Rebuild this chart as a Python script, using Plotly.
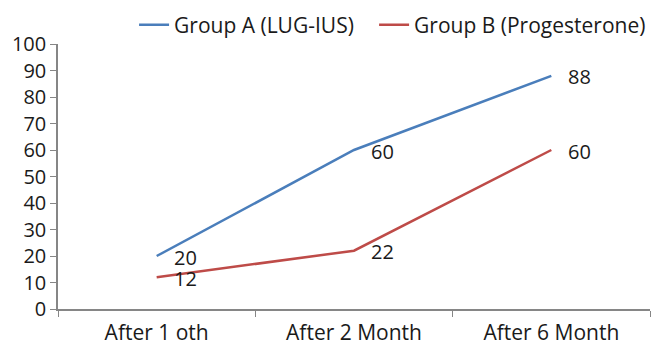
import plotly.graph_objects as go

categories = ["After 1 oth", "After 2 Month", "After 6 Month"]
group_a = [20, 60, 88]
group_b = [12, 22, 60]
series_names = ["Group A (LUG-IUS)", "Group B (Progesterone)"]
y_ticks = [0, 10, 20, 30, 40, 50, 60, 70, 80, 90, 100]

colors = ["#4A7EBB", "#BE4B48"]
font_family = "Open Sans"
text_color = "#1a1a1a"
legend_ids = ["legend", "legend2"]

fig = go.Figure()
for name, vals, col, lg in zip(series_names, [group_a, group_b], colors, legend_ids):
    fig.add_trace(go.Scatter(
        x=categories, y=vals, name=name, mode="lines",
        line=dict(color=col, width=2.5), legend=lg, showlegend=True,
    ))
    for c, v in zip(categories, vals):
        fig.add_annotation(
            x=c, y=v, text=str(v), showarrow=False,
            xanchor="left", yanchor="middle", xshift=15, yshift=-1,
            font=dict(family=font_family, size=20, color=text_color),
        )

legend_style = dict(orientation="h", xref="container", yref="container",
                    y=0.928, xanchor="left", yanchor="middle",
                    font=dict(size=21), itemwidth=30,
                    bgcolor="rgba(0,0,0,0)")

fig.update_layout(
    width=654, height=347,
    showlegend=True,
    margin=dict(l=58, r=4, t=44, b=38, autoexpand=False),
    paper_bgcolor="white", plot_bgcolor="white",
    font=dict(family=font_family, size=21, color=text_color),
    legend=dict(x=0.205, **legend_style),
    legend2=dict(x=0.572, **legend_style),
)
fig.update_xaxes(
    type="category", tickson="boundaries", ticks="outside", ticklen=6,
    tickcolor="#868686", showline=True, linecolor="#868686", linewidth=1.5,
    showgrid=False, zeroline=False, range=[-0.5, 2.5],
    tickfont=dict(size=21), ticklabelstandoff=4,
)
fig.update_yaxes(
    range=[0, 100], tickvals=y_ticks, ticks="outside", ticklen=6,
    tickcolor="#868686", showline=True, linecolor="#868686", linewidth=1.5,
    showgrid=False, zeroline=False, tickfont=dict(size=20),
)

fig.write_html("out.html")
